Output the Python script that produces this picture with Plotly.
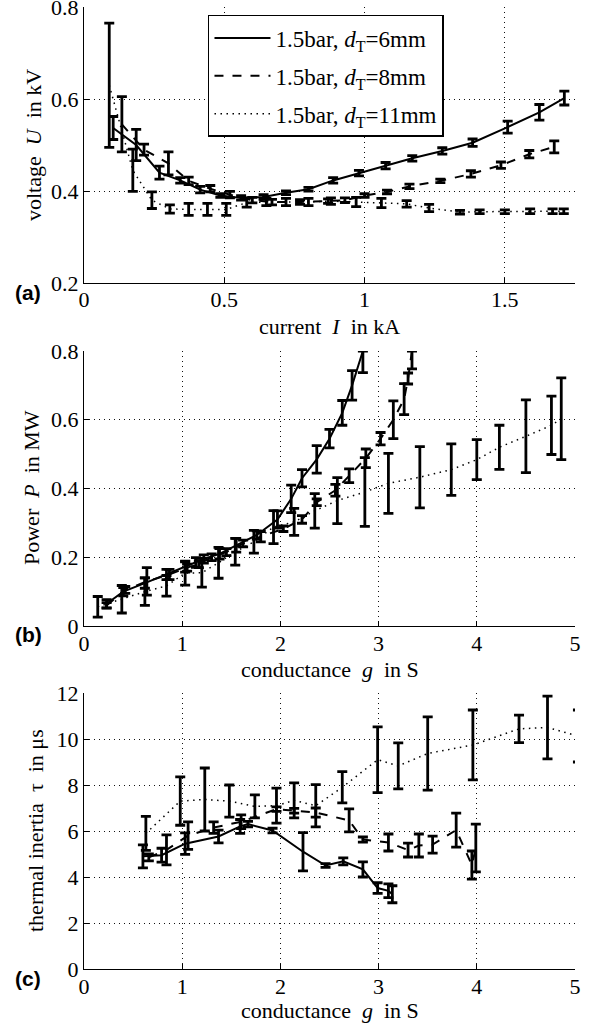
import plotly.graph_objects as go

# ---------------- data ----------------
# (a) voltage U [kV] vs current I [kA]
a_x_6 = [0.104, 0.186, 0.269, 0.343, 0.414, 0.486, 0.56, 0.64, 0.72, 0.80, 0.888, 0.98, 1.075, 1.17, 1.277, 1.385, 1.51, 1.623, 1.712]
a_y_6 = [0.537, 0.50, 0.44, 0.423, 0.403, 0.39, 0.385, 0.387, 0.396, 0.404, 0.423, 0.439, 0.455, 0.471, 0.487, 0.505, 0.539, 0.571, 0.602]
a_e_6 = [0.025, 0.034, 0.014, 0.006, 0.007, 0.004, 0.005, 0.005, 0.004, 0.004, 0.006, 0.006, 0.007, 0.006, 0.007, 0.008, 0.013, 0.017, 0.015]

a_x_8 = [0.135, 0.214, 0.301, 0.373, 0.45, 0.52, 0.60, 0.67, 0.77, 0.87, 0.93, 1.0, 1.08, 1.16, 1.27, 1.379, 1.486, 1.587, 1.676]
a_y_8 = [0.545, 0.49, 0.46, 0.422, 0.405, 0.392, 0.38, 0.376, 0.376, 0.378, 0.38, 0.39, 0.398, 0.41, 0.422, 0.437, 0.456, 0.48, 0.496]
a_e_8 = [0.06, 0.012, 0.025, 0.008, 0.007, 0.007, 0.006, 0.006, 0.005, 0.005, 0.005, 0.004, 0.004, 0.005, 0.004, 0.007, 0.007, 0.008, 0.013]

a_x_11 = [0.09, 0.174, 0.242, 0.306, 0.373, 0.44, 0.507, 0.58, 0.65, 0.72, 0.8, 0.88, 0.97, 1.06, 1.15, 1.23, 1.34, 1.41, 1.5, 1.59, 1.67, 1.71]
a_y_11 = [0.63, 0.445, 0.38, 0.361, 0.36, 0.36, 0.36, 0.375, 0.376, 0.376, 0.376, 0.378, 0.376, 0.374, 0.372, 0.363, 0.354, 0.355, 0.355, 0.356, 0.356, 0.356]
a_e_11 = [0.135, 0.046, 0.018, 0.009, 0.013, 0.013, 0.013, 0.01, 0.008, 0.008, 0.008, 0.007, 0.01, 0.01, 0.007, 0.008, 0.004, 0.004, 0.004, 0.005, 0.005, 0.005]

# (b) power P [MW] vs conductance g [S]
b_x_6 = [0.23, 0.40, 0.62, 0.84, 1.03, 1.14, 1.22, 1.38, 1.55, 1.76, 1.97, 2.11, 2.22, 2.37, 2.50, 2.63, 2.73, 2.84]
b_y_6 = [0.065, 0.10, 0.125, 0.15, 0.172, 0.185, 0.195, 0.21, 0.235, 0.265, 0.31, 0.37, 0.43, 0.485, 0.545, 0.62, 0.70, 0.80]
b_ep_6 = [0.012, 0.012, 0.015, 0.015, 0.015, 0.014, 0.012, 0.015, 0.02, 0.012, 0.025, 0.04, 0.025, 0.04, 0.027, 0.036, 0.043, 0.0]
b_em_6 = [0.012, 0.012, 0.015, 0.015, 0.015, 0.014, 0.012, 0.015, 0.02, 0.012, 0.025, 0.04, 0.025, 0.04, 0.027, 0.036, 0.043, 0.063]

b_x_8 = [0.23, 0.42, 0.64, 0.87, 1.05, 1.17, 1.30, 1.45, 1.62, 1.80, 2.03, 2.22, 2.37, 2.56, 2.70, 2.87, 3.02, 3.15, 3.26, 3.30, 3.34]
b_y_8 = [0.06, 0.105, 0.13, 0.15, 0.17, 0.18, 0.20, 0.215, 0.24, 0.26, 0.283, 0.31, 0.36, 0.395, 0.437, 0.488, 0.545, 0.60, 0.66, 0.72, 0.80]
b_ep_8 = [0.008, 0.01, 0.04, 0.015, 0.01, 0.01, 0.01, 0.01, 0.01, 0.015, 0.008, 0.011, 0.01, 0.017, 0.02, 0.027, 0.018, 0.055, 0.045, 0.016, 0.0]
b_em_8 = [0.008, 0.01, 0.04, 0.015, 0.01, 0.01, 0.01, 0.01, 0.01, 0.015, 0.008, 0.011, 0.01, 0.017, 0.02, 0.027, 0.018, 0.055, 0.045, 0.016, 0.052]

b_x_11 = [0.14, 0.385, 0.62, 0.84, 1.03, 1.20, 1.37, 1.54, 1.73, 1.93, 2.14, 2.35, 2.58, 2.86, 3.10, 3.42, 3.74, 4.00, 4.23, 4.50, 4.76, 4.86]
b_y_11 = [0.056, 0.078, 0.10, 0.117, 0.154, 0.155, 0.184, 0.216, 0.245, 0.288, 0.303, 0.335, 0.365, 0.39, 0.415, 0.433, 0.455, 0.484, 0.52, 0.552, 0.584, 0.603]
b_e_11 = [0.03, 0.04, 0.04, 0.03, 0.035, 0.042, 0.045, 0.039, 0.033, 0.048, 0.039, 0.05, 0.067, 0.10, 0.087, 0.089, 0.075, 0.058, 0.064, 0.106, 0.085, 0.119]

# (c) thermal inertia tau [us] vs conductance g [S]
c_x_6 = [0.60, 0.79, 1.03, 1.37, 1.59, 1.67, 1.92, 2.23, 2.46, 2.64, 2.84, 2.99, 3.10, 3.14]
c_y_6 = [4.9, 4.95, 5.45, 5.76, 6.2, 6.3, 6.02, 5.1, 4.5, 4.68, 4.33, 3.52, 3.4, 3.25]
c_e_6 = [0.5, 0.3, 0.47, 0.28, 0.3, 0.12, 0.1, 0.83, 0.08, 0.15, 0.33, 0.23, 0.3, 0.37]

c_x_8 = [0.66, 0.84, 1.06, 1.32, 1.60, 1.96, 2.14, 2.36, 2.70, 2.84, 3.10, 3.30, 3.41, 3.55, 3.79, 3.95, 3.99]
c_y_8 = [4.85, 5.18, 5.8, 6.15, 6.4, 6.95, 6.88, 6.8, 6.46, 5.63, 5.5, 5.17, 5.37, 5.41, 6.04, 4.52, 5.26]
c_e_8 = [0.15, 0.65, 0.6, 0.25, 0.3, 0.1, 0.1, 0.2, 0.5, 0.11, 0.37, 0.3, 0.5, 0.37, 0.74, 0.61, 1.04]

c_x_11 = [0.63, 0.98, 1.23, 1.48, 1.74, 1.96, 2.14, 2.36, 2.63, 2.99, 3.20, 3.50, 3.96, 4.43, 4.72, 5.03]
c_y_11 = [5.9, 7.3, 7.37, 7.3, 7.07, 7.1, 7.33, 7.1, 7.9, 9.1, 8.83, 9.37, 9.74, 10.44, 10.5, 10.13]
c_e_11 = [0.74, 1.05, 1.37, 0.7, 0.5, 0.76, 0.76, 0.92, 0.68, 1.43, 1.0, 1.59, 1.52, 0.6, 1.36, 1.13]

# ticks
a_xticks = [0, 0.5, 1, 1.5]
a_xtext = ["0", "0.5", "1", "1.5"]
a_yticks = [0.2, 0.4, 0.6, 0.8]
a_ytext = ["0.2", "0.4", "0.6", "0.8"]
b_xticks = [0, 1, 2, 3, 4, 5]
b_xtext = ["0", "1", "2", "3", "4", "5"]
b_yticks = [0, 0.2, 0.4, 0.6, 0.8]
b_ytext = ["0", "0.2", "0.4", "0.6", "0.8"]
c_yticks = [0, 2, 4, 6, 8, 10, 12]
c_ytext = ["0", "2", "4", "6", "8", "10", "12"]

legend_names = ["1.5bar, <i>d</i><sub>T</sub>=6mm",
                "1.5bar, <i>d</i><sub>T</sub>=8mm",
                "1.5bar, <i>d</i><sub>T</sub>=11mm"]

# ---------------- figure ----------------
SERIF = "Liberation Serif"
FS = 22
styles = [dict(dash="solid", width=2.0), dict(dash="dash", width=2.0),
          dict(dash="1.5px,4.5px", width=1.5)]

fig = go.Figure()

panels = [
    ("x", "y", [(a_x_6, a_y_6, a_e_6, a_e_6), (a_x_8, a_y_8, a_e_8, a_e_8), (a_x_11, a_y_11, a_e_11, a_e_11)]),
    ("x2", "y2", [(b_x_6, b_y_6, b_ep_6, b_em_6), (b_x_8, b_y_8, b_ep_8, b_em_8), (b_x_11, b_y_11, b_e_11, b_e_11)]),
    ("x3", "y3", [(c_x_6, c_y_6, c_e_6, c_e_6), (c_x_8, c_y_8, c_e_8, c_e_8), (c_x_11, c_y_11, c_e_11, c_e_11)]),
]

for pi, (xa, ya, series) in enumerate(panels):
    for si, (xs, ys, ep, em) in enumerate(series):
        fig.add_trace(go.Scatter(
            x=xs, y=ys, mode="lines", xaxis=xa, yaxis=ya,
            line=dict(color="black", **styles[si]),
            error_y=dict(type="data", symmetric=False, array=ep, arrayminus=em,
                         visible=True, color="black", thickness=2.8, width=5),
            name=legend_names[si], legendgroup="g%d" % si,
            showlegend=(pi == 0),
        ))

L, R, T, B = 84, 16, 7, 58
PW = 591 - L - R
PH = 1027 - T - B
dom_a = [0.7131, 1.0]
dom_b = [0.3565, 0.6424]
dom_c = [0.0, 0.2869]

def common():
    return dict(ticks="inside", ticklen=5, tickcolor="black", showline=True,
                linecolor="black", linewidth=1.2, mirror=False, showgrid=True,
                gridcolor="#111", griddash="1px,4px", gridwidth=1, zeroline=False,
                automargin=False, ticklabeloverflow="allow",
                tickfont=dict(family=SERIF, size=FS, color="black"))

def xax(rng, tv, tt, anchor):
    d = common()
    d.update(range=rng, tickvals=tv, ticktext=tt, anchor=anchor, domain=[0, 1],
             ticklabelstandoff=-3)
    return d

def yax(rng, tv, tt, anchor, dom):
    d = common()
    d.update(range=rng, tickvals=tv, ticktext=tt, anchor=anchor, domain=dom)
    return d

fig.update_layout(
    width=591, height=1027,
    margin=dict(l=L, r=R, t=T, b=B),
    paper_bgcolor="white", plot_bgcolor="white",
    font=dict(family=SERIF, size=FS, color="black"),
    xaxis=xax([0, 1.75], a_xticks, a_xtext, "y"),
    yaxis=yax([0.2, 0.8], a_yticks, a_ytext, "x", dom_a),
    xaxis2=xax([0, 5], b_xticks, b_xtext, "y2"),
    yaxis2=yax([0, 0.8], b_yticks, b_ytext, "x2", dom_b),
    xaxis3=xax([0, 5], b_xticks, b_xtext, "y3"),
    yaxis3=yax([0, 12], c_yticks, c_ytext, "x3", dom_c),
    legend=dict(x=0.2525, y=0.9917, xanchor="left", yanchor="top",
                bgcolor="white", bordercolor="black", borderwidth=1.5,
                font=dict(family=SERIF, size=23, color="black"),
                itemwidth=56, traceorder="grouped", tracegroupgap=5),
    showlegend=True,
)

def px_x(px):
    return (px - L) / PW

def px_y(py):
    return (1027 - B - py) / PH

# axis titles (pixel positions of their centres)
x_titles = [("current  <i>I</i>  in kA", 326), ("conductance  <i>g</i>  in S", 669),
            ("conductance  <i>g</i>  in S", 1010)]
y_titles = [("voltage  <i>U</i>  in kV", 34, 145), ("Power  <i>P</i>  in MW", 31, 488),
            ("thermal inertia  τ  in μs", 35, 831)]
for txt, py in x_titles:
    fig.add_annotation(text=txt, xref="paper", yref="paper", x=0.5, y=px_y(py),
                       xanchor="center", yanchor="middle", showarrow=False,
                       font=dict(family=SERIF, size=FS, color="black"))
for txt, px, py in y_titles:
    fig.add_annotation(text=txt, xref="paper", yref="paper", x=px_x(px), y=px_y(py),
                       xanchor="center", yanchor="middle", showarrow=False, textangle=-90,
                       font=dict(family=SERIF, size=FS, color="black"))

for lab, py in [("(a)", 292), ("(b)", 635), ("(c)", 978)]:
    fig.add_annotation(text="<b>%s</b>" % lab, xref="paper", yref="paper",
                       x=px_x(13), y=px_y(py), xanchor="left", yanchor="middle", showarrow=False,
                       font=dict(family="Liberation Sans", size=21, color="black"))

fig.write_html("out.html", config={"displayModeBar": False},
               post_script="document.body.style.margin='0';document.body.style.padding='0';")
